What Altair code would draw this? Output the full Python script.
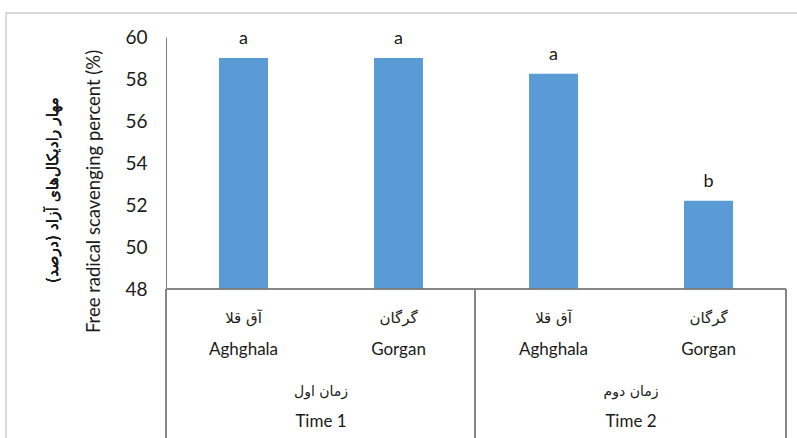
import altair as alt
import pandas as pd

# Data: free radical scavenging (%) by sampling time and site
groups_en = ["Time 1", "Time 1", "Time 2", "Time 2"]
groups_fa = ["زمان اول", "زمان اول", "زمان دوم", "زمان دوم"]
sites_en = ["Aghghala", "Gorgan", "Aghghala", "Gorgan"]
sites_fa = ["آق قلا", "گرگان", "آق قلا", "گرگان"]
scavenging = [59.0, 59.0, 58.25, 52.2]
letters = ["a", "a", "a", "b"]
y_ticks = [48, 50, 52, 54, 56, 58, 60]

df = pd.DataFrame({
    "group_en": groups_en,
    "group_fa": groups_fa,
    "site_en": sites_en,
    "site_fa": sites_fa,
    "value": scavenging,
    "letter": letters,
})
df["key"] = df["group_en"] + " / " + df["site_en"]
keys = list(df["key"])
groups = df.drop_duplicates("group_en").copy()

W, H = 620, 252
STEP = W / len(keys)
EN_FONT = "Lato"
FA_FONT = "DejaVu Sans"
TEXT = "#1a1a1a"
LINE = "#7f7f7f"

x = alt.X(
    "key:N",
    sort=keys,
    scale=alt.Scale(paddingInner=0.684, paddingOuter=0.342),
    axis=None,
)
y_scale = alt.Scale(domain=[48, 60], nice=False, zero=False)

base = alt.Chart(df)

bars = base.mark_bar(color="#5b9bd5", clip=True).encode(
    x=x,
    y=alt.Y(
        "value:Q",
        scale=y_scale,
        axis=alt.Axis(
            values=y_ticks,
            grid=False,
            ticks=False,
            domainColor=LINE,
            labelFont=EN_FONT,
            labelFontSize=19,
            labelColor=TEXT,
            labelPadding=19,
            title="Free radical scavenging percent (%)",
            titleFont=EN_FONT,
            titleFontSize=18.5,
            titleFontWeight="normal",
            titleColor=TEXT,
            titleAngle=270,
            titleAlign="center",
            titleBaseline="middle",
            titleX=-73,
            titleY=154,
        ),
    ),
    y2=alt.datum(48),
)

letters_layer = base.mark_text(
    font=EN_FONT, fontSize=18, color=TEXT, baseline="middle", dy=-19
).encode(x=x, y=alt.Y("value:Q", scale=y_scale), text="letter:N")

site_fa_layer = base.mark_text(
    font=FA_FONT, fontSize=15, fontWeight="normal", color=TEXT, baseline="middle"
).encode(x=x, y=alt.value(281), text="site_fa:N")

site_en_layer = base.mark_text(
    font=EN_FONT, fontSize=17, color=TEXT, baseline="middle"
).encode(x=x, y=alt.value(313), text="site_en:N")

group_fa_layer = alt.Chart(groups).mark_text(
    font=FA_FONT, fontSize=14, fontWeight="normal", color=TEXT, baseline="middle",
    dx=STEP / 2,
).encode(x=x, y=alt.value(355), text="group_fa:N")

group_en_layer = alt.Chart(groups).mark_text(
    font=EN_FONT, fontSize=17, color=TEXT, baseline="middle", dx=STEP / 2
).encode(x=x, y=alt.value(385), text="group_en:N")

# Persian axis title, set beside the English one
fa_title = base.mark_text(
    font=FA_FONT, fontSize=15.5, fontWeight="normal", color=TEXT, angle=270,
    baseline="middle", align="center",
).encode(
    x=alt.value(-113),
    y=alt.value(153),
    text=alt.value("\u200fمهار رادیکال‌های آزاد (درصد)\u200f"),
)

# Category-axis frame: baseline, outer edges and group divider
frame_style = dict(color=LINE, strokeWidth=1)
x_line = base.mark_rule(**frame_style).encode(
    x=alt.value(0), x2=alt.value(W), y=alt.value(H)
)
left_edge = base.mark_rule(**frame_style).encode(
    x=alt.value(0), y=alt.value(H), y2=alt.value(H + 160)
)
divider = base.mark_rule(**frame_style).encode(
    x=alt.value(309), y=alt.value(H), y2=alt.value(H + 160)
)
right_edge = base.mark_rule(**frame_style).encode(
    x=alt.value(W), y=alt.value(H), y2=alt.value(H + 160)
)

# Light outer border around the figure
border = base.mark_rect(fill=None, stroke="#d9d9d9", strokeWidth=2).encode(
    x=alt.value(-160), x2=alt.value(W + 40), y=alt.value(-24), y2=alt.value(H + 200)
)

chart = alt.layer(
    border,
    bars,
    letters_layer,
    x_line,
    left_edge,
    divider,
    right_edge,
    site_fa_layer,
    site_en_layer,
    group_fa_layer,
    group_en_layer,
    fa_title,
).properties(
    width=W,
    height=H,
    autosize=alt.AutoSizeParams(type="none"),
    padding={"left": 166, "top": 37, "right": 11, "bottom": 149},
    background="white",
).configure_view(stroke=None)

chart.save("out.html", embed_options={"renderer": "svg", "actions": False})
